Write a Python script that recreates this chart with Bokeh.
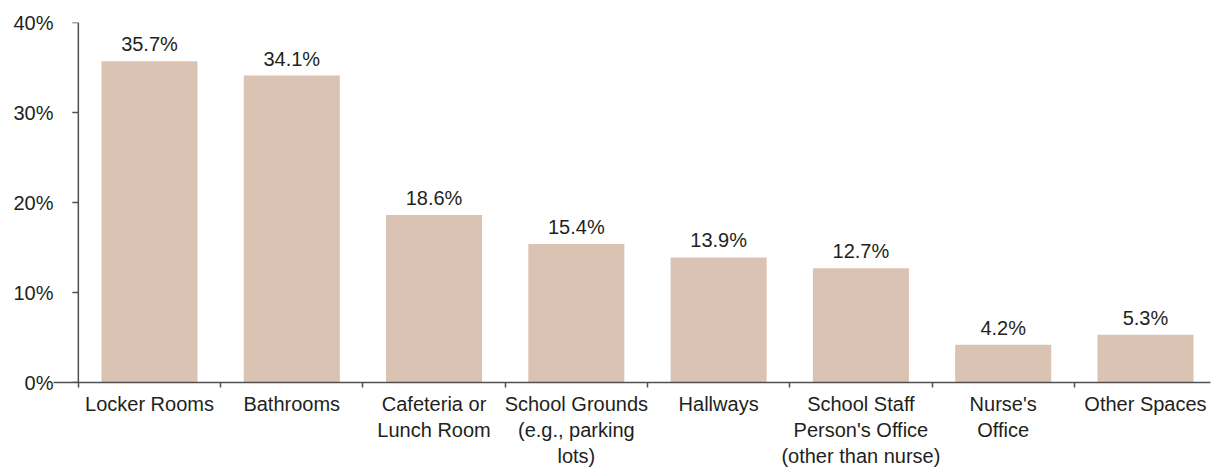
from bokeh.plotting import figure
from bokeh.models import Range1d, FixedTicker, Span, ColumnDataSource, LabelSet
from bokeh.embed import file_html
from bokeh.resources import INLINE
from bokeh.core.properties import value

categories = [
    "Locker Rooms",
    "Bathrooms",
    "Cafeteria or\nLunch Room",
    "School Grounds\n(e.g., parking\nlots)",
    "Hallways",
    "School Staff\nPerson's Office\n(other than nurse)",
    "Nurse's\nOffice",
    "Other Spaces",
]
values = [35.7, 34.1, 18.6, 15.4, 13.9, 12.7, 4.2, 5.3]
y_ticks = [0, 10, 20, 30, 40]
y_tick_labels = ["0%", "10%", "20%", "30%", "40%"]

FONT = "Liberation Sans"
TEXT = "#231f20"
AXIS = "#505050"
BAR = "#dbc3b3"

n = len(categories)
xs = list(range(n))
src = ColumnDataSource(dict(x=xs, v=values, lab=[f"{v:.1f}%" for v in values]))

p = figure(frame_width=1157, frame_height=360, output_backend="svg", toolbar_location=None,
           x_range=Range1d(-0.6746, 7.457), y_range=Range1d(0, 40),
           min_border_left=53, min_border_right=1, min_border_top=22, min_border_bottom=6)
p.outline_line_color = None
p.grid.grid_line_color = None
p.background_fill_color = "white"

p.vbar(x="x", top="v", width=0.675, source=src, fill_color=BAR, line_color=None)

labels = LabelSet(x="x", y="v", text="lab", source=src, text_align="center",
                  text_baseline="bottom", y_offset=6, text_font=value(FONT),
                  text_font_size="20px", text_color=TEXT)
p.add_layout(labels)

# x axis: labels at centers, tick marks at category boundaries (minor ticks)
xa = p.xaxis[0]
xa.ticker = FixedTicker(ticks=xs, minor_ticks=[i - 0.5 for i in range(n + 1)])
xa.major_label_overrides = {i: c for i, c in enumerate(categories)}
xa.major_tick_out = 0
xa.major_tick_in = 0
xa.minor_tick_out = 5
xa.minor_tick_in = 0
xa.minor_tick_line_color = AXIS
xa.minor_tick_line_width = 1.5
xa.axis_line_color = AXIS
xa.axis_line_width = 1.5
xa.major_label_standoff = 5
xa.major_label_text_font = FONT
xa.major_label_text_font_size = "20px"
xa.major_label_text_color = TEXT

ya = p.yaxis[0]
ya.ticker = FixedTicker(ticks=y_ticks)
ya.major_label_overrides = {t: l for t, l in zip(y_ticks, y_tick_labels)}
ya.axis_line_color = None
ya.major_tick_line_color = None
ya.minor_tick_line_color = None
ya.major_tick_out = 0
ya.major_tick_in = 0
ya.minor_tick_out = 0
ya.minor_tick_in = 0
ya.major_label_standoff = 0
ya.major_label_text_font = FONT
ya.major_label_text_font_size = "20px"
ya.major_label_text_color = TEXT

# y axis line drawn at the left category boundary, with outward tick marks
p.add_layout(Span(location=-0.5, dimension="height", line_color=AXIS, line_width=1.5))
tick_len = 6 / 142.3
p.segment(x0=[-0.5 - tick_len] * len(y_ticks), x1=[-0.5] * len(y_ticks),
          y0=y_ticks, y1=y_ticks, line_color=AXIS, line_width=1.5)

open("out.html", "w").write(file_html(p, INLINE))
